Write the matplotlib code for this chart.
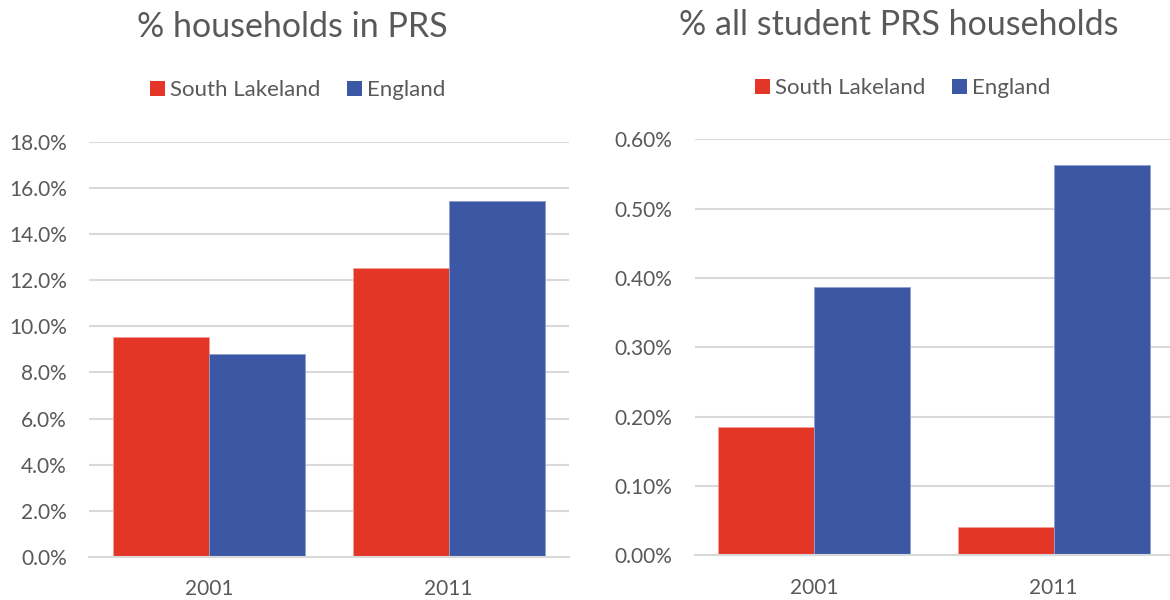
import matplotlib
matplotlib.use("Agg")
import matplotlib.pyplot as plt
from matplotlib.ticker import FuncFormatter, MultipleLocator
from matplotlib.patches import Patch
import numpy as np

years = ["2001", "2011"]
series_names = ["South Lakeland", "England"]
prs_south_lakeland = [9.55, 12.53]
prs_england = [8.80, 15.43]
student_south_lakeland = [0.185, 0.041]
student_england = [0.387, 0.563]
titles = ["% households in PRS", "% all student PRS households"]

RED = "#E43626"
BLUE = "#3C58A4"
TXT = "#595959"
GRID = "#D9D9D9"

plt.rcParams['font.family'] = ['Lato', 'DejaVu Sans']

W, H = 1170, 600
fig = plt.figure(figsize=(W/100, H/100), dpi=100)

def px_axes(x0, x1, ytop, ybot):
    return fig.add_axes([x0/W, 1-ybot/H, (x1-x0)/W, (ybot-ytop)/H])

def style(ax, ymax, step, fmt):
    ax.set_ylim(0, ymax)
    ax.yaxis.set_major_locator(MultipleLocator(step))
    ax.yaxis.set_major_formatter(FuncFormatter(fmt))
    ax.set_xlim(-0.5, 1.5)
    ax.set_xticks([0, 1])
    ax.set_xticklabels(years)
    for s in ["top", "right", "left"]:
        ax.spines[s].set_visible(False)
    ax.spines["bottom"].set_color(GRID)
    ax.spines["bottom"].set_linewidth(1.5)
    ax.grid(axis="y", color=GRID, linewidth=1.5)
    ax.set_axisbelow(True)
    ax.tick_params(axis="both", length=0, labelsize=15, colors=TXT)
    ax.tick_params(axis="y", pad=16)
    ax.tick_params(axis="x", pad=16)
    for lab in ax.get_yticklabels() + ax.get_xticklabels():
        lab.set_color(TXT)

x = np.arange(len(years))
bw = 0.4

ax1 = px_axes(89, 568.5, 141.7, 557)
ax1.bar(x - bw/2, prs_south_lakeland, bw, color=RED, edgecolor="#F2A097", linewidth=0.6)
ax1.bar(x + bw/2, prs_england, bw, color=BLUE, edgecolor="#8EA0D0", linewidth=0.6)
style(ax1, 18, 2, lambda v, p: f"{v:.1f}%")

ax2 = px_axes(694.5, 1173.5, 139.3, 555.3)
ax2.bar(x - bw/2, student_south_lakeland, bw, color=RED, edgecolor="#F2A097", linewidth=0.6)
ax2.bar(x + bw/2, student_england, bw, color=BLUE, edgecolor="#8EA0D0", linewidth=0.6)
style(ax2, 0.6, 0.1, lambda v, p: f"{v:.2f}%")

fig.text(292.5/W, 1-37/H, titles[0], ha="center", va="baseline", fontsize=24.5, color=TXT)
fig.text(899/W, 1-35/H, titles[1], ha="center", va="baseline", fontsize=24.5, color=TXT)

handles = [Patch(facecolor=RED), Patch(facecolor=BLUE)]
for cx, cy in [(298, 90), (903, 88)]:
    fig.legend(handles, series_names, loc="center", bbox_to_anchor=(cx/W, 1-cy/H),
               ncol=2, frameon=False, fontsize=16, labelcolor=TXT,
               handlelength=0.65, handleheight=0.65, handletextpad=0.25,
               columnspacing=1.2, borderaxespad=0)

fig.savefig("out.png", dpi=100, facecolor="white")
